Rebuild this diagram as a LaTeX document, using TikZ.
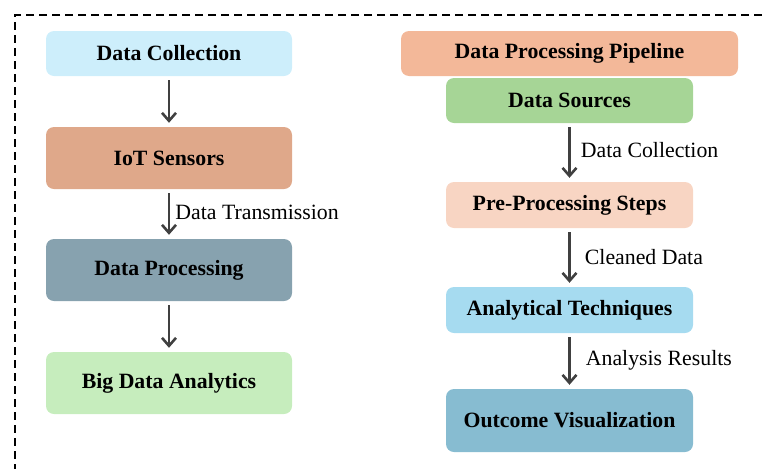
\documentclass[tikz,border=0pt]{standalone}
\usepackage{fontspec}
\setmainfont{Liberation Serif}
\usetikzlibrary{arrows.meta}
\definecolor{cDC}{HTML}{CDEEFB}
\definecolor{cIoT}{HTML}{DFA88A}
\definecolor{cDP}{HTML}{87A2AF}
\definecolor{cBDA}{HTML}{C6EDBD}
\definecolor{cPipe}{HTML}{F3B899}
\definecolor{cSrc}{HTML}{A6D596}
\definecolor{cPre}{HTML}{F8D5C3}
\definecolor{cAna}{HTML}{A6DBF0}
\definecolor{cOut}{HTML}{87BCD1}
\definecolor{arrowgray}{HTML}{404040}
\tikzset{
  box/.style={rounded corners=8pt, draw=none, align=center, inner sep=0pt,
    font=\fontsize{21.8}{26}\selectfont\bfseries, text=black},
  flow/.style={draw=arrowgray, line width=2.8pt, -{Straight Barb[length=8pt,width=14pt,line width=2.6pt]},
    shorten <=4pt, shorten >=4pt},
  lbl/.style={font=\fontsize{21.8}{26}\selectfont, text=black, inner sep=0pt, anchor=west},
  frame/.style={draw=black, line width=2pt, dash pattern=on 8pt off 5pt}
}
\begin{document}
\begin{tikzpicture}[x=1pt,y=-1pt]
\useasboundingbox (0,0) rectangle (762,469);
\coordinate (ftop) at (762,15);
\coordinate (fcorner) at (15,15);
\coordinate (fbot) at (15,469);
\draw[frame] (ftop) -- (fcorner) -- (fbot);

% left column
\node[box, fill=cDC, minimum width=246pt, minimum height=45pt] (dc) at (169,53.5) {Data Collection};
\node[box, fill=cIoT, minimum width=246pt, minimum height=62pt] (iot) at (169,158) {IoT Sensors};
\node[box, fill=cDP, minimum width=246pt, minimum height=62pt] (dp) at (169,270) {Data Processing};
\node[box, fill=cBDA, minimum width=246pt, minimum height=62pt] (bda) at (169,383) {Big Data Analytics};

\draw[flow] (dc) -- (iot);
\draw[flow] (iot) -- node[lbl, xshift=5pt, yshift=2pt] {Data Transmission} (dp);
\draw[flow] (dp) -- (bda);

% right column
\node[box, fill=cPipe, minimum width=337pt, minimum height=45pt] (pipe) at (569.5,53.5) {Data Processing Pipeline};
\node[box, fill=cSrc, minimum width=247pt, minimum height=45pt] (src) at (569.5,100.5) {Data Sources};
\node[box, fill=cPre, minimum width=247pt, minimum height=46pt] (pre) at (569.5,205) {Pre-Processing Steps};
\node[box, fill=cAna, minimum width=247pt, minimum height=46pt] (ana) at (569.5,310) {Analytical Techniques};
\node[box, fill=cOut, minimum width=247pt, minimum height=63pt] (out) at (569.5,420.5) {Outcome Visualization};

\draw[flow] (src) -- node[lbl, xshift=10pt, yshift=2pt] {Data Collection} (pre);
\draw[flow] (pre) -- node[lbl, xshift=14pt, yshift=0pt] {Cleaned Data} (ana);
\draw[flow] (ana) -- node[lbl, xshift=15pt, yshift=1pt] {Analysis Results} (out);
\end{tikzpicture}
\end{document}
